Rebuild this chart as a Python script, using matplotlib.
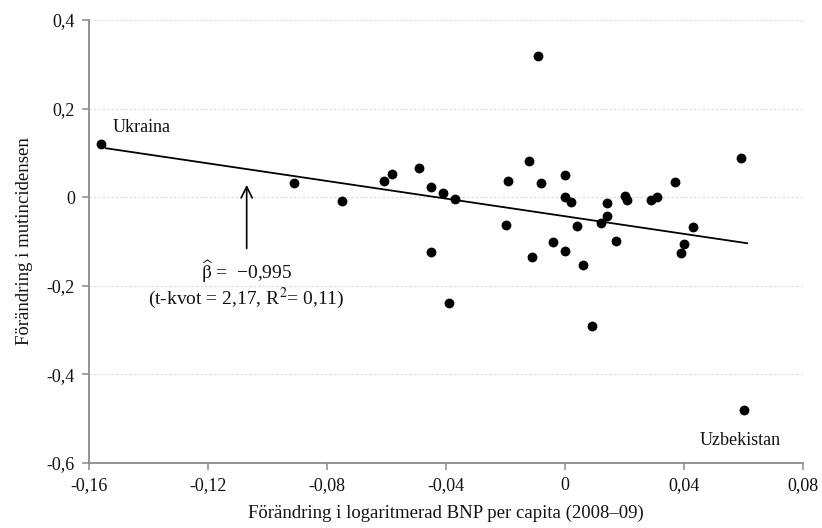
import matplotlib
matplotlib.use("Agg")
import matplotlib.pyplot as plt
import numpy as np

# ---- data ----
gdp_change = [-0.156, -0.091, -0.075, -0.061, -0.058, -0.049, -0.045, -0.045, -0.041,
              -0.039, -0.037, -0.020, -0.019, -0.012, -0.011, -0.009, -0.008, -0.004,
              0.000, 0.000, 0.000, 0.002, 0.004, 0.006, 0.009, 0.012, 0.014, 0.014,
              0.017, 0.020, 0.021, 0.029, 0.031, 0.037, 0.039, 0.040, 0.043, 0.059, 0.060]
bribe_change = [0.120, 0.032, -0.009, 0.036, 0.052, 0.065, 0.023, -0.124, 0.010,
                -0.239, -0.003, -0.063, 0.036, 0.081, -0.135, 0.318, 0.032, -0.102,
                0.050, 0.001, -0.122, -0.011, -0.065, -0.153, -0.290, -0.059, -0.014, -0.043,
                -0.099, 0.002, -0.007, -0.007, 0.000, 0.034, -0.126, -0.106, -0.068, 0.088, -0.481]
beta = -0.995
intercept = -0.043
line_x = [-0.1543, 0.0612]

x_ticks = [-0.16, -0.12, -0.08, -0.04, 0, 0.04, 0.08]
x_tick_labels = ["-0,16", "-0,12", "-0,08", "-0,04", "0", "0,04", "0,08"]
y_ticks = [-0.6, -0.4, -0.2, 0, 0.2, 0.4]
y_tick_labels = ["-0,6", "-0,4", "-0,2", "0", "0,2", "0,4"]

plt.rcParams['font.family'] = ['Liberation Serif', 'DejaVu Serif']
plt.rcParams['mathtext.fontset'] = 'stix'

fig = plt.figure(figsize=(8.22, 5.28), dpi=100)
ax = fig.add_axes([89/822, 1-463/528, (803-89)/822, (463-20)/528])

ax.set_xlim(-0.16, 0.08)
ax.set_ylim(-0.6, 0.4)

for yt in y_ticks:
    ax.axhline(yt, color='#dadada', lw=0.8, ls=(0, (2, 2)), zorder=0)

lx = np.array(line_x)
ax.plot(lx, intercept + beta * lx, color='black', lw=1.3, zorder=2)
ax.scatter(gdp_change, bribe_change, s=50, color='black', zorder=3, linewidths=0)

ax.set_xticks(x_ticks)
ax.set_xticklabels(x_tick_labels)
ax.set_yticks(y_ticks)
ax.set_yticklabels(y_tick_labels)

for s in ['top', 'right']:
    ax.spines[s].set_visible(False)
for s in ['left', 'bottom']:
    ax.spines[s].set_color('#8a8a8a')
    ax.spines[s].set_linewidth(1.3)
ax.tick_params(axis='both', colors='#8a8a8a', length=5, width=1.1, labelsize=13,
               labelcolor='#111111', pad=5)

ax.set_xlabel("Förändring i logaritmerad BNP per capita (2008–09)", fontsize=13.5,
              color='#111111', labelpad=8)
ax.set_ylabel("Förändring i mutincidensen", fontsize=13.5, color='#111111', labelpad=10)

ax.text(-0.152, 0.158, "Ukraina", fontsize=13, ha='left', va='center', color='#111111')
ax.text(0.0588, -0.549, "Uzbekistan", fontsize=13, ha='center', va='center', color='#111111')

ax.annotate("", xy=(-0.107, 0.034), xytext=(-0.107, -0.122),
            arrowprops=dict(arrowstyle='->,head_length=0.8,head_width=0.4', color='black', lw=1.2))
ax.text(-0.107, -0.168, r"$\widehat{\mathrm{\beta}}$ =  −0,995", fontsize=14, ha='center',
        va='center', color='#111111')
ax.text(-0.107, -0.228, r"(t-kvot = 2,17, R$^2$= 0,11)", fontsize=14, ha='center', va='center',
        color='#111111')

fig.savefig("out.png", dpi=100)
